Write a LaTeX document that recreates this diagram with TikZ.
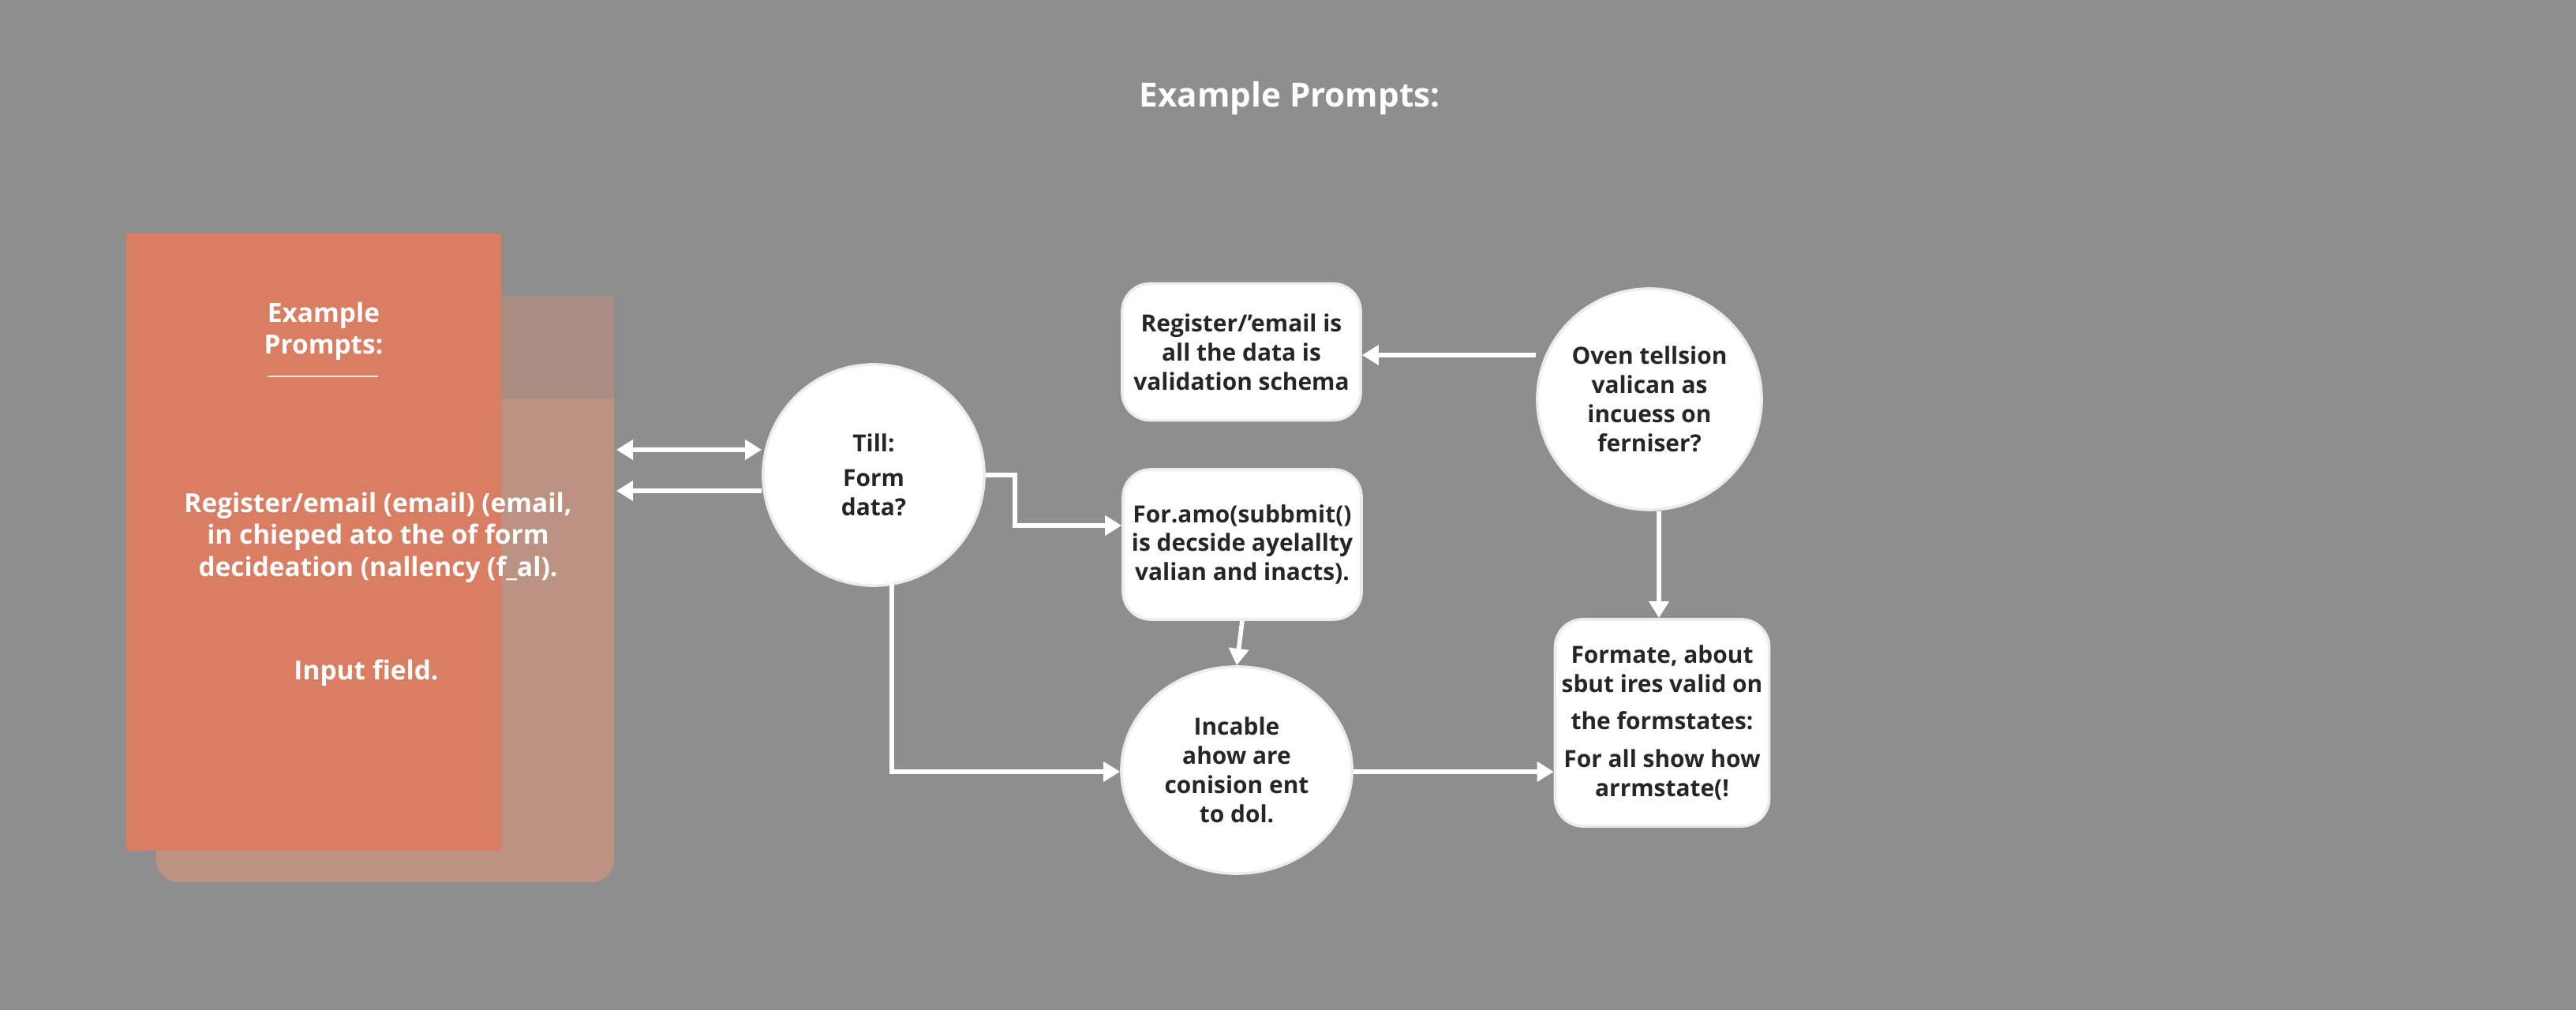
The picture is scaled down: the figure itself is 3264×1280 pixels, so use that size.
\documentclass[tikz,border=0pt]{standalone}
\usepackage{fontspec}
\setmainfont{Open Sans}
\usetikzlibrary{arrows.meta, calc, shapes.geometric}
\definecolor{bggray}{HTML}{8E8E8E}
\definecolor{cardfront}{HTML}{D97D63}
\definecolor{cardback}{HTML}{BC9382}
\definecolor{cardtop}{HTML}{A88E84}
\tikzset{
    my-box/.style={
        draw=white!85!gray, fill=white, rounded corners=10pt, line width=1pt,
        align=center, font=\fontsize{8.5}{10.5}\selectfont\bfseries, text=black!85,
        minimum width=3.02cm, inner sep=0pt
    },
    my-circle/.style={
        draw=white!85!gray, fill=white, ellipse, line width=1pt, align=center,
        font=\fontsize{8.5}{10.5}\selectfont\bfseries, text=black!85, inner sep=0pt
    },
    my-wire/.style={
        draw=white, line width=1.6pt, -{Triangle[width=7pt,length=6pt]}
    },
    my-label/.style={
        text=white, align=center, font=\fontsize{9.5}{11.5}\selectfont\bfseries
    },
}

\begin{document}
\begin{tikzpicture}[x=0.01cm, y=-0.01cm]

        % BACKGROUND
        \fill[bggray] (0,0) rectangle (3264,1280);
        \useasboundingbox (0,0) rectangle (3264,1280);

        % TITLE
        \node[my-label, font=\fontsize{12}{14}\selectfont\bfseries] (TITLE) at (1634,125) {Example Prompts:};

        % CARDS
        \fill[cardback, rounded corners=8pt] (198,375) rectangle (778,1118);
        \fill[cardtop] (198,375) rectangle (778,506);
        \fill[cardfront] (160,296) rectangle (635,1078);
        \node[my-label] (CARDHEAD) at (410,420) {Example\\Prompts:};
        \draw[white!80!cardfront, line width=0.8pt] (339,477) -- (479,477);
        \node[my-label] (CARDTEXT) at (479,681) {Register/email (email) (email,\\in chieped ato the of form\\decideation (nallency (f\_al).};
        \node[my-label] (INPUT) at (464,853) {Input field.};
        \coordinate (CARDIN1) at (781,570);
        \coordinate (CARDIN2) at (781,622);

        % CIRCLES
        \node[my-circle, minimum width=2.8cm, minimum height=2.8cm] (TILL)    at (1107,602)  {Till:\\[2pt]Form\\data?};
        \node[my-circle, minimum width=2.84cm, minimum height=2.8cm] (OVEN)   at (2090,506)  {Oven tellsion\\valican as\\incuess on\\ferniser?};
        \node[my-circle, minimum width=2.92cm, minimum height=2.62cm] (INCABLE) at (1567,976) {Incable\\ahow are\\conision ent\\to dol.};

        % BOXES
        \node[my-box, minimum height=1.73cm] (SCHEMA) at (1573,446) {Register/'email is\\all the data is\\validation schema};
        \node[my-box, minimum height=1.9cm]  (SUBMIT) at (1574,690) {For.amo(subbmit()\\is decside ayelallty\\valian and inacts).};
        \node[my-box, minimum width=2.71cm, minimum height=2.62cm] (STATES) at (2106,916) {Formate, about\\sbut ires valid on\\[3pt]the formstates:\\[3pt]For all show how\\arrmstate(!};

        % CONNECTIONS
        \draw[my-wire, {Triangle[width=7pt,length=6pt]}-{Triangle[width=7pt,length=6pt]}] (CARDIN1) -- (TILL.west |- CARDIN1);
        \draw[my-wire] (TILL.west |- CARDIN2) -- (CARDIN2);
        \draw[my-wire] (TILL.east) -- (1286,602) -- (1286,666) -- (SUBMIT.west |- 0,666);
        \draw[my-wire] (1130,739) -- (1130,978) -- (INCABLE.west |- 0,978);
        \draw[my-wire] (SUBMIT.south) -- (INCABLE.north);
        \draw[my-wire] (OVEN.west |- 0,450) -- (SCHEMA.east |- 0,450);
        \draw[my-wire] (OVEN.south -| 2102,0) -- (STATES.north -| 2102,0);
        \draw[my-wire] (INCABLE.east |- 0,978) -- (STATES.west |- 0,978);

\end{tikzpicture}
\end{document}
